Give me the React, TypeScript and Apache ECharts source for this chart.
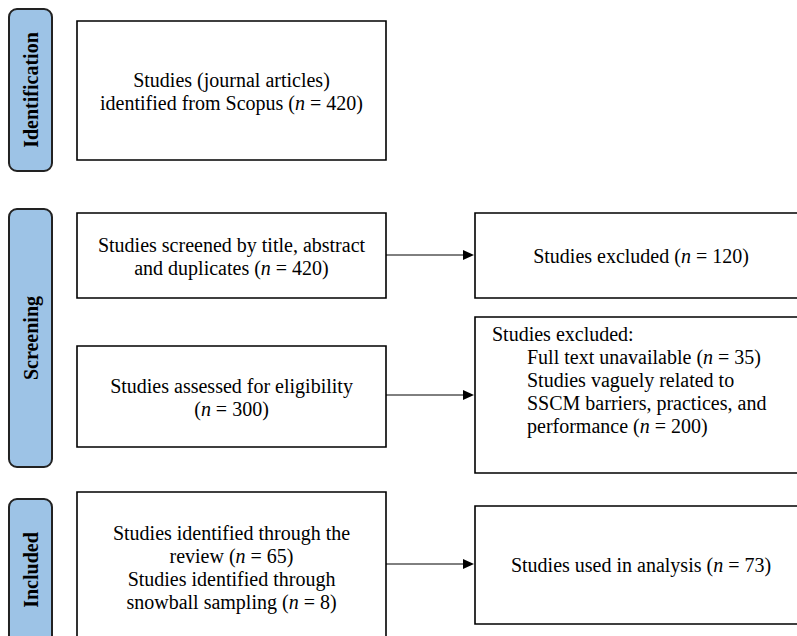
import { useEffect, useRef } from "react";
import * as echarts from "echarts";

// ---- Data ----
const stages = ["Identification", "Screening", "Included"];
const identifiedFromScopus = 420;
const screenedCount = 420;
const excludedScreening = 120;
const assessedCount = 300;
const fullTextUnavailable = 35;
const vaguelyRelated = 200;
const reviewIdentified = 65;
const snowballIdentified = 8;
const usedInAnalysis = 73;

const nEq = (v: number) => `({i|n} = ${v})`;

const leftTexts: string[][] = [
  ["Studies (journal articles)", `identified from Scopus ${nEq(identifiedFromScopus)}`],
  ["Studies screened by title, abstract", `and duplicates ${nEq(screenedCount)}`],
  ["Studies assessed for eligibility", nEq(assessedCount)],
  [
    "Studies identified through the",
    `review ${nEq(reviewIdentified)}`,
    "Studies identified through",
    `snowball sampling ${nEq(snowballIdentified)}`,
  ],
];
const excludedHeader = "Studies excluded:";
const excludedReasons: string[] = [
  `Full text unavailable ${nEq(fullTextUnavailable)}`,
  "Studies vaguely related to",
  "SSCM barriers, practices, and",
  `performance ${nEq(vaguelyRelated)}`,
];
const rightSimpleTexts: string[] = [
  `Studies excluded ${nEq(excludedScreening)}`,
  `Studies used in analysis ${nEq(usedInAnalysis)}`,
];

// ---- Layout ----
const FONT = "'Liberation Serif', 'Times New Roman', serif";
const FS = 20;
const LH = 23;
const tabs = [
  { y: 9, h: 162, ty: 90 },
  { y: 209, h: 258, ty: 338 },
  { y: 499, h: 146, ty: 570 },
];
const leftBoxes = [
  { y: 21, h: 139 },
  { y: 213, h: 85 },
  { y: 346, h: 101 },
  { y: 492, h: 148 },
];
const LX = 77;
const LW = 309;
const RX = 475;
const RW = 332;
const rightBoxes = [
  { y: 213, h: 85 },
  { y: 317, h: 156 },
  { y: 506, h: 118 },
];
const arrowsY = [255, 395, 564];

const rich = {
  i: { fontStyle: "italic", fontFamily: FONT, fontSize: FS, lineHeight: LH, fill: "#000" },
};

export default function App() {
  const ref = useRef<HTMLDivElement>(null);
  useEffect(() => {
    if (!ref.current) return;
    const chart = echarts.init(ref.current, null, { renderer: "svg" });
    const els: any[] = [];

    // stage tabs
    stages.forEach((s, k) => {
      const t = tabs[k];
      els.push({
        type: "rect",
        shape: { x: 9, y: t.y, width: 43, height: t.h, r: 8 },
        style: { fill: "#9dc3e6", stroke: "#222", lineWidth: 2 },
      });
      els.push({
        type: "text",
        x: 31,
        y: t.ty,
        rotation: Math.PI / 2,
        style: {
          text: s,
          fontFamily: FONT,
          fontSize: FS,
          fontWeight: "bold",
          fill: "#000",
          align: "center",
          verticalAlign: "middle",
        },
      });
    });

    // left boxes
    leftBoxes.forEach((b, k) => {
      els.push({
        type: "rect",
        shape: { x: LX, y: b.y, width: LW, height: b.h },
        style: { fill: "#fff", stroke: "#000", lineWidth: 1.6 },
      });
      els.push({
        type: "text",
        x: LX + LW / 2,
        y: b.y + b.h / 2 + 1,
        style: {
          text: leftTexts[k].join("\n"),
          fontFamily: FONT,
          fontSize: FS,
          lineHeight: LH,
          fill: "#000",
          align: "center",
          verticalAlign: "middle",
          rich,
        },
      });
    });

    // right boxes
    rightBoxes.forEach((b) => {
      els.push({
        type: "rect",
        shape: { x: RX, y: b.y, width: RW, height: b.h },
        style: { fill: "#fff", stroke: "#000", lineWidth: 1.6 },
      });
    });
    [rightBoxes[0], rightBoxes[2]].forEach((b, k) => {
      els.push({
        type: "text",
        x: RX + RW / 2,
        y: b.y + b.h / 2,
        style: {
          text: rightSimpleTexts[k],
          fontFamily: FONT,
          fontSize: FS,
          lineHeight: LH,
          fill: "#000",
          align: "center",
          verticalAlign: "middle",
          rich,
        },
      });
    });
    const rb = rightBoxes[1];
    [excludedHeader, ...excludedReasons].forEach((line, k) => {
      els.push({
        type: "text",
        x: k === 0 ? 492 : 527,
        y: rb.y + 17 + k * 23,
        style: {
          text: line,
          fontFamily: FONT,
          fontSize: FS,
          lineHeight: LH,
          fill: "#000",
          align: "left",
          verticalAlign: "middle",
          rich,
        },
      });
    });

    // arrows
    arrowsY.forEach((y) => {
      els.push({
        type: "line",
        shape: { x1: LX + LW, y1: y, x2: RX - 10, y2: y },
        style: { stroke: "#000", lineWidth: 1 },
      });
      els.push({
        type: "polygon",
        shape: { points: [[RX - 12, y - 5], [RX - 1, y], [RX - 12, y + 5]] },
        style: { fill: "#000" },
      });
    });

    chart.setOption({
      animation: false,
      backgroundColor: "#fff",
      graphic: { elements: els },
    });
    return () => chart.dispose();
  }, []);
  return (
    <div
      ref={ref}
      style={{ position: "fixed", left: 0, top: 0, width: 797, height: 636 }}
    />
  );
}
